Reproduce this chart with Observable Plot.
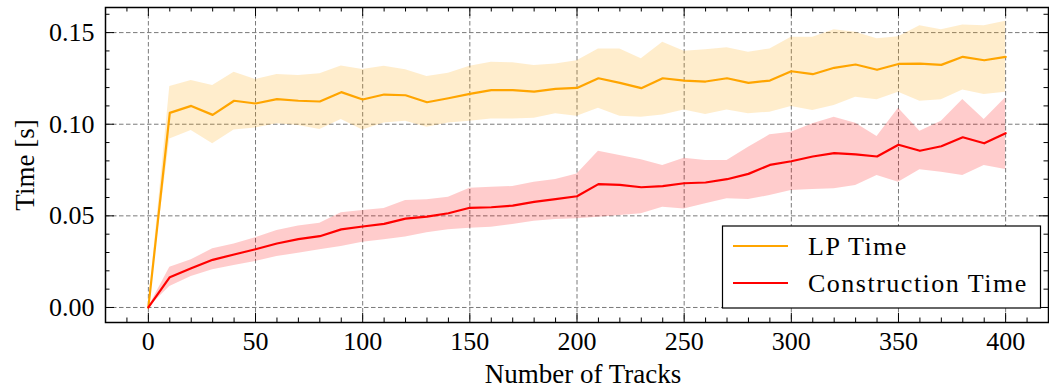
<!DOCTYPE html>
<html>
<head>
<meta charset="utf-8">
<script src="https://cdn.jsdelivr.net/npm/d3@7"></script>
<script src="https://cdn.jsdelivr.net/npm/@observablehq/plot@0.6"></script>
<style>
  html, body { margin: 0; padding: 0; background: #fff; }
  #chart { width: 1049px; height: 392px; }
</style>
</head>
<body>
<div id="chart"></div>
<script>
// Number of tracks (x) and timing statistics (seconds)
const tracks = [0, 10, 20, 30, 40, 50, 60, 70, 80, 90, 100, 110, 120, 130, 140, 150, 160, 170, 180, 190, 200,
  210, 220, 230, 240, 250, 260, 270, 280, 290, 300, 310, 320, 330, 340, 350, 360, 370, 380, 390, 400];

const lpMean = [0, 0.1062, 0.1100, 0.1051, 0.1128, 0.1113, 0.1137, 0.1128, 0.1124, 0.1175, 0.1135, 0.1162, 0.1158,
  0.1120, 0.1142, 0.1166, 0.1186, 0.1186, 0.1178, 0.1193, 0.1198, 0.1251, 0.1226, 0.1197, 0.1251, 0.1238, 0.1233,
  0.1251, 0.1226, 0.1238, 0.1289, 0.1273, 0.1308, 0.1326, 0.1297, 0.1329, 0.1331, 0.1324, 0.1368, 0.1349, 0.1368];
const lpHigh = [0, 0.1206, 0.1238, 0.1211, 0.1284, 0.1244, 0.1271, 0.1266, 0.1275, 0.1318, 0.1298, 0.1316, 0.1297,
  0.1260, 0.1278, 0.1317, 0.1338, 0.1335, 0.1320, 0.1329, 0.1347, 0.1411, 0.1411, 0.1357, 0.1447, 0.1398, 0.1407,
  0.1418, 0.1393, 0.1411, 0.1475, 0.1475, 0.1515, 0.1502, 0.1466, 0.1478, 0.1538, 0.1515, 0.1542, 0.1538, 0.1562];
const lpLow = [0, 0.0920, 0.0966, 0.0893, 0.0969, 0.0980, 0.1002, 0.0993, 0.0971, 0.1026, 0.0969, 0.1007, 0.1016,
  0.0984, 0.1007, 0.1016, 0.1029, 0.1029, 0.1033, 0.1057, 0.1044, 0.1087, 0.1044, 0.1038, 0.1051, 0.1078, 0.1053,
  0.1078, 0.1057, 0.1066, 0.1097, 0.1075, 0.1102, 0.1147, 0.1133, 0.1175, 0.1125, 0.1133, 0.1187, 0.1162, 0.1175];

const buildMean = [0, 0.0165, 0.0214, 0.0260, 0.0289, 0.0318, 0.0349, 0.0373, 0.0389, 0.0426, 0.0442, 0.0456, 0.0485,
  0.0496, 0.0514, 0.0544, 0.0547, 0.0556, 0.0576, 0.0591, 0.0607, 0.0673, 0.0669, 0.0656, 0.0662, 0.0678, 0.0682,
  0.0700, 0.0729, 0.0778, 0.0798, 0.0824, 0.0842, 0.0835, 0.0824, 0.0888, 0.0855, 0.0880, 0.0929, 0.0896, 0.0951];
const buildHigh = [0, 0.0220, 0.0260, 0.0320, 0.0347, 0.0380, 0.0420, 0.0444, 0.0460, 0.0517, 0.0529, 0.0540, 0.0584,
  0.0588, 0.0602, 0.0651, 0.0656, 0.0660, 0.0684, 0.0698, 0.0729, 0.0853, 0.0829, 0.0806, 0.0775, 0.0815, 0.0802,
  0.0802, 0.0874, 0.0942, 0.0956, 0.1002, 0.1038, 0.1005, 0.0933, 0.1087, 0.0962, 0.1016, 0.1135, 0.1026, 0.1144];
const buildLow = [0, 0.0115, 0.0169, 0.0206, 0.0229, 0.0251, 0.0278, 0.0296, 0.0315, 0.0333, 0.0356, 0.0369, 0.0384,
  0.0408, 0.0424, 0.0433, 0.0438, 0.0453, 0.0471, 0.0480, 0.0484, 0.0493, 0.0502, 0.0511, 0.0547, 0.0538, 0.0566,
  0.0593, 0.0589, 0.0611, 0.0638, 0.0644, 0.0648, 0.0666, 0.0720, 0.0684, 0.0751, 0.0738, 0.0720, 0.0775, 0.0753];

const seriesNames = ["LP Time", "Construction Time"];
const seriesColors = ["orange", "red"];

// Axis ticks
const xMajor = [0, 50, 100, 150, 200, 250, 300, 350, 400];
const xMinor = d3.range(-20, 421, 10).filter(v => v % 50 !== 0);
const yMajor = [0, 0.05, 0.10, 0.15];
const yMinor = [0.01, 0.02, 0.03, 0.04, 0.06, 0.07, 0.08, 0.09, 0.11, 0.12, 0.13, 0.14, 0.16];

const lpRows = tracks.map((x, i) => ({x, mean: lpMean[i], lo: lpLow[i], hi: lpHigh[i]}));
const buildRows = tracks.map((x, i) => ({x, mean: buildMean[i], lo: buildLow[i], hi: buildHigh[i]}));

const W = 1049, H = 392;
const mL = 105, mR = 1, mT = 7, mB = 70;
const fw = W - mL - mR, fh = H - mT - mB;
const majorLen = 9, minorLen = 4.5;
const font = "'Liberation Serif', 'Times New Roman', serif";

const chart = Plot.plot({
  width: W,
  height: H,
  marginLeft: mL,
  marginRight: mR,
  marginTop: mT,
  marginBottom: mB,
  style: {fontFamily: font, fontSize: "26px", background: "#fff", color: "#000"},
  x: {domain: [-20, 420], axis: null},
  y: {domain: [-0.0082, 0.1637], axis: null},
  marks: [
    // dashed grid at major ticks
    Plot.ruleX(xMajor, {x: d => d, stroke: "#7a7a7a", strokeWidth: 1, strokeDasharray: "4.5,2.5"}),
    Plot.ruleY(yMajor, {y: d => d, stroke: "#7a7a7a", strokeWidth: 1, strokeDasharray: "4.5,2.5"}),
    // variability bands
    Plot.areaY(lpRows, {x: "x", y1: "lo", y2: "hi", fill: seriesColors[0], fillOpacity: 0.2}),
    Plot.areaY(buildRows, {x: "x", y1: "lo", y2: "hi", fill: seriesColors[1], fillOpacity: 0.2}),
    // mean lines
    Plot.line(lpRows, {x: "x", y: "mean", stroke: seriesColors[0], strokeWidth: 2.2}),
    Plot.line(buildRows, {x: "x", y: "mean", stroke: seriesColors[1], strokeWidth: 2.2}),
    // inward ticks on all four sides
    Plot.tickX(xMajor, {x: d => d, insetTop: fh - majorLen, stroke: "#000"}),
    Plot.tickX(xMinor, {x: d => d, insetTop: fh - minorLen, stroke: "#000"}),
    Plot.tickX(xMajor, {x: d => d, insetBottom: fh - majorLen, stroke: "#000"}),
    Plot.tickX(xMinor, {x: d => d, insetBottom: fh - minorLen, stroke: "#000"}),
    Plot.tickY(yMajor, {y: d => d, insetRight: fw - majorLen, stroke: "#000"}),
    Plot.tickY(yMinor, {y: d => d, insetRight: fw - minorLen, stroke: "#000"}),
    Plot.tickY(yMajor, {y: d => d, insetLeft: fw - majorLen, stroke: "#000"}),
    Plot.tickY(yMinor, {y: d => d, insetLeft: fw - minorLen, stroke: "#000"}),
    // tick labels
    Plot.axisX(xMajor, {tickSize: 0, tickPadding: 9, fontSize: 26, tickFormat: d => String(d), label: null}),
    Plot.axisY(yMajor, {tickSize: 0, tickPadding: 11, fontSize: 26, tickFormat: d3.format(".2f"), label: null}),
    // axis titles
    Plot.text(["Number of Tracks"], {frameAnchor: "bottom", textAnchor: "middle", lineAnchor: "middle",
      dx: 6, dy: 52, fontSize: 27, letterSpacing: "1.5px"}),
    Plot.text(["Time [s]"], {frameAnchor: "left", textAnchor: "middle", lineAnchor: "middle",
      dx: -80, rotate: -90, fontSize: 27, letterSpacing: "0.4px"}),
    Plot.frame({stroke: "#000", strokeWidth: 1.5})
  ]
});

// Legend box in the lower right of the frame
const svg = d3.select(chart);
const lg = svg.append("g").attr("font-family", font).attr("font-size", 26).attr("text-anchor", "start");
lg.append("rect")
  .attr("x", 722.5).attr("y", 226).attr("width", 318).attr("height", 82)
  .attr("fill", "#fff").attr("stroke", "#000").attr("stroke-width", 1.2);
seriesNames.forEach((name, i) => {
  const y = 246 + i * 37;
  lg.append("line").attr("x1", 733).attr("x2", 788).attr("y1", y).attr("y2", y)
    .attr("stroke", seriesColors[i]).attr("stroke-width", 2.2);
  lg.append("text").attr("x", 808).attr("y", y).attr("dy", "0.33em")
    .attr("text-anchor", "start").attr("letter-spacing", "1.5px").attr("fill", "#000").text(name);
});

document.getElementById("chart").appendChild(chart);
</script>
</body>
</html>
